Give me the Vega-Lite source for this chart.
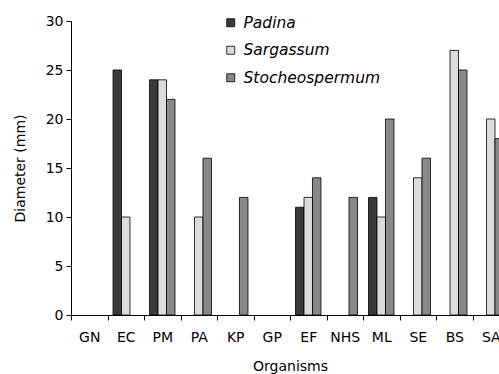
{
  "$schema": "https://vega.github.io/schema/vega-lite/v6.json",
  "autosize": "none",
  "width": 428,
  "height": 294,
  "padding": {"left": 71, "top": 21, "right": 0, "bottom": 59},
  "background": "white",
  "config": {
    "view": {"stroke": null},
    "font": "DejaVu Sans",
    "axis": {"grid": false, "domainColor": "black", "tickColor": "black", "labelColor": "black", "titleColor": "black", "labelFont": "DejaVu Sans", "titleFont": "DejaVu Sans", "titleFontWeight": "normal", "labelFontSize": 14, "titleFontSize": 14, "tickSize": 5}
  },
  "data": {
    "values": [
      {"org": "EC", "species": "Padina", "d": 25},
      {"org": "EC", "species": "Sargassum", "d": 10},
      {"org": "PM", "species": "Padina", "d": 24},
      {"org": "PM", "species": "Sargassum", "d": 24},
      {"org": "PM", "species": "Stocheospermum", "d": 22},
      {"org": "PA", "species": "Sargassum", "d": 10},
      {"org": "PA", "species": "Stocheospermum", "d": 16},
      {"org": "KP", "species": "Stocheospermum", "d": 12},
      {"org": "EF", "species": "Padina", "d": 11},
      {"org": "EF", "species": "Sargassum", "d": 12},
      {"org": "EF", "species": "Stocheospermum", "d": 14},
      {"org": "NHS", "species": "Stocheospermum", "d": 12},
      {"org": "ML", "species": "Padina", "d": 12},
      {"org": "ML", "species": "Sargassum", "d": 10},
      {"org": "ML", "species": "Stocheospermum", "d": 20},
      {"org": "SE", "species": "Sargassum", "d": 14},
      {"org": "SE", "species": "Stocheospermum", "d": 16},
      {"org": "BS", "species": "Sargassum", "d": 27},
      {"org": "BS", "species": "Stocheospermum", "d": 25},
      {"org": "SA", "species": "Sargassum", "d": 20},
      {"org": "SA", "species": "Stocheospermum", "d": 18}
    ]
  },
  "mark": {"type": "bar", "stroke": "black", "strokeWidth": 0.8},
  "encoding": {
    "x": {
      "field": "org", "type": "nominal",
      "sort": ["GN", "EC", "PM", "PA", "KP", "GP", "EF", "NHS", "ML", "SE", "BS", "SA"],
      "scale": {"domain": ["GN", "EC", "PM", "PA", "KP", "GP", "EF", "NHS", "ML", "SE", "BS", "SA"], "range": [0, 438], "paddingInner": 0, "paddingOuter": 0},
      "axis": {"title": "Organisms", "labelAngle": 0, "tickBand": "extent", "labelPadding": 10, "titlePadding": 15}
    },
    "xOffset": {
      "field": "species", "type": "nominal",
      "scale": {"domain": ["Padina", "Sargassum", "Stocheospermum"], "paddingInner": 0, "paddingOuter": 0.65}
    },
    "y": {
      "field": "d", "type": "quantitative",
      "scale": {"domain": [0, 30]},
      "axis": {"title": "Diameter (mm)", "values": [0, 5, 10, 15, 20, 25, 30], "labelPadding": 3, "titlePadding": 18}
    },
    "fill": {
      "field": "species", "type": "nominal",
      "scale": {"domain": ["Padina", "Sargassum", "Stocheospermum"], "range": ["#3a3a3a", "#dcdcdc", "#888888"]},
      "legend": {
        "title": null, "orient": "none", "legendX": 152, "legendY": -6,
        "symbolType": "square", "symbolSize": 64, "symbolStrokeColor": "black", "symbolStrokeWidth": 0.8,
        "labelFontStyle": "italic", "labelFontSize": 15.5, "labelColor": "black", "labelFont": "DejaVu Sans",
        "rowPadding": 10.5, "labelOffset": 5
      }
    }
  }
}
